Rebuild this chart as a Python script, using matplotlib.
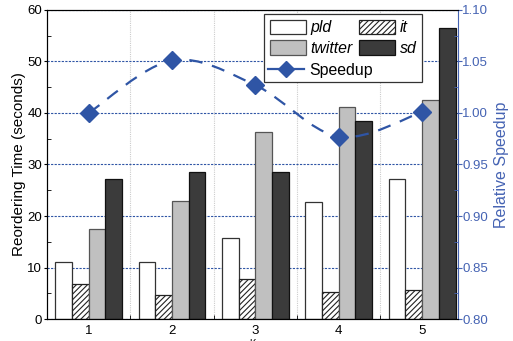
import numpy as np
import matplotlib
matplotlib.use('Agg')
from matplotlib import pyplot as plt
from matplotlib.path import Path
from matplotlib.patches import PathPatch, Patch
from matplotlib.lines import Line2D
from matplotlib.ticker import MultipleLocator, FixedLocator

plt.rcParams['font.family'] = ['Liberation Sans', 'DejaVu Sans']
plt.rcParams['hatch.linewidth'] = 0.8

k = [1, 2, 3, 4, 5]
pld = [11.0, 11.1, 15.8, 22.7, 27.2]
it = [6.7, 4.6, 7.8, 5.2, 5.6]
twitter = [17.5, 22.9, 36.3, 41.2, 42.6]
sd = [27.2, 28.6, 28.5, 38.5, 56.6]
speedup = [1.000, 1.051, 1.027, 0.977, 1.001]

blue = '#2f55a5'
axis_blue = '#4563b3'


def smooth_path(xs, ys):
    # catmull-rom style bezier through the points
    xs = np.asarray(xs, float)
    ys = np.asarray(ys, float)
    n = len(xs)
    verts = [(xs[0], ys[0])]
    codes = [Path.MOVETO]
    for i in range(n - 1):
        i0 = max(i - 1, 0)
        i3 = min(i + 2, n - 1)
        c1 = (xs[i] + (xs[i + 1] - xs[i0]) / 6, ys[i] + (ys[i + 1] - ys[i0]) / 6)
        c2 = (xs[i + 1] - (xs[i3] - xs[i]) / 6, ys[i + 1] - (ys[i3] - ys[i]) / 6)
        verts += [c1, c2, (xs[i + 1], ys[i + 1])]
        codes += [Path.CURVE4] * 3
    return Path(verts, codes)


fig = plt.figure(figsize=(5.13, 3.41), dpi=100)
ax = fig.add_axes([0.0916, 0.0645, 0.8012, 0.9062])

x = np.array(k, float)
w = 0.2
ax.bar(x - 1.5 * w, pld, w, color='white', edgecolor='#333333', linewidth=0.9, zorder=2)
ax.bar(x - 0.5 * w, it, w, color='white', edgecolor='#222222', linewidth=0.9, hatch='//////', zorder=2)
ax.bar(x + 0.5 * w, twitter, w, color='#c0c0c0', edgecolor='#555555', linewidth=0.9, zorder=2)
ax.bar(x + 1.5 * w, sd, w, color='#3b3b3b', edgecolor='#111111', linewidth=0.9, zorder=2)

ax.set_xlim(0.5, 5.43)
ax.set_ylim(0, 60)
ax.set_xticks(k)
ax.xaxis.set_minor_locator(FixedLocator([1.5, 2.5, 3.5, 4.5]))
ax.yaxis.set_major_locator(MultipleLocator(10))
ax.yaxis.set_minor_locator(MultipleLocator(5))
ax.tick_params(axis='x', which='major', length=0, labelsize=9.5, pad=4)
ax.tick_params(axis='x', which='minor', direction='in', length=3)
ax.tick_params(axis='y', which='major', direction='out', length=2.5, labelsize=9.5, pad=1)
ax.tick_params(axis='y', which='minor', direction='in', length=3)
ax.set_axisbelow(True)
ax.yaxis.grid(True, which='major', color=blue, linestyle=(0, (2, 1.2)), linewidth=0.8)
ax.xaxis.grid(True, which='minor', color='#cccccc', linestyle=(0, (1, 1)), linewidth=0.8)
ax.set_ylabel('Reordering Time (seconds)', fontsize=11, labelpad=1)
ax.set_xlabel('K', fontsize=7, labelpad=2)
ax.spines['right'].set_visible(False)

ax2 = ax.twinx()
ax2.set_ylim(0.80, 1.10)
ax2.yaxis.set_major_locator(MultipleLocator(0.05))
ax2.yaxis.set_minor_locator(MultipleLocator(0.025))
ax2.yaxis.set_major_formatter(matplotlib.ticker.FormatStrFormatter('%.2f'))
ax2.tick_params(axis='y', which='major', direction='out', length=3, colors=axis_blue, labelsize=9.5, pad=0)
ax2.tick_params(axis='y', which='minor', direction='in', length=3, colors=axis_blue)
ax2.spines['right'].set_color(axis_blue)
ax2.set_ylabel('Relative Speedup', fontsize=11.5, color=axis_blue, labelpad=4)

curve = PathPatch(smooth_path(k, speedup), facecolor='none', edgecolor=blue,
                  linewidth=1.6, linestyle=(0, (6, 4.5)), zorder=3)
ax2.add_patch(curve)
ax2.plot(k, speedup, linestyle='none', marker='D', markersize=9,
         color=blue, zorder=4)

# framed legend for the bars, with an empty third row for the speedup entry
blank = Patch(facecolor='none', edgecolor='none')
bar_handles = [
    Patch(facecolor='white', edgecolor='#333333', linewidth=0.9),
    Patch(facecolor='#c0c0c0', edgecolor='#555555', linewidth=0.9),
    blank,
    Patch(facecolor='white', edgecolor='#222222', linewidth=0.9, hatch='//////'),
    Patch(facecolor='#3b3b3b', edgecolor='#111111', linewidth=0.9),
]
bar_labels = ['pld', 'twitter', ' ', 'it', 'sd']
leg_style = dict(fontsize=11.4, handlelength=2.3, handleheight=1.07,
                 handletextpad=0.3, labelspacing=0.3)
leg = ax2.legend(bar_handles, bar_labels, ncol=2, loc='upper left',
                 bbox_to_anchor=(0.528, 0.987), borderaxespad=0,
                 frameon=True, fancybox=False, framealpha=1,
                 edgecolor='#333333', columnspacing=0.35, borderpad=0.35,
                 **leg_style)
leg.get_frame().set_linewidth(0.9)
for t in leg.get_texts():
    t.set_style('italic')
ax2.add_artist(leg)

line_handle = Line2D([], [], color=blue, linewidth=1.6, marker='D', markersize=8)
ax2.legend([line_handle], ['Speedup'], loc='upper left',
           bbox_to_anchor=(0.5377, 0.830), borderaxespad=0, borderpad=0,
           frameon=False, **leg_style)

fig.savefig('out.png', dpi=100)
